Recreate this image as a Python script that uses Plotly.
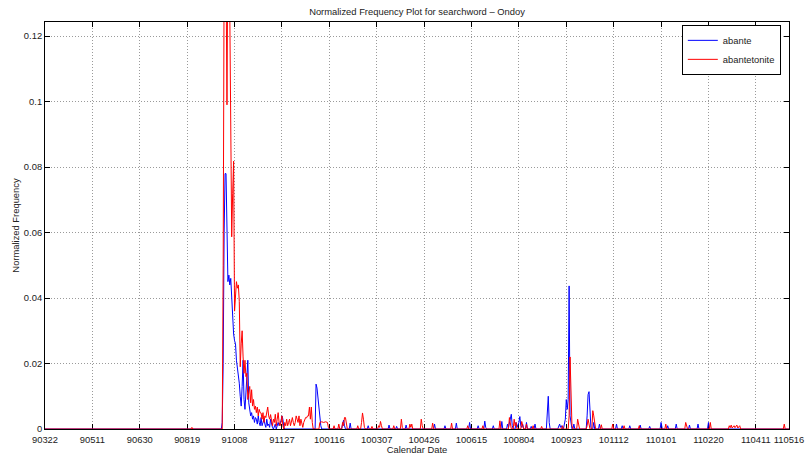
import plotly.graph_objects as go

# Day offsets from 2009-03-22 (x) and normalized frequency values (y)
abante_day = [0, 186, 187, 188, 189, 190, 191, 192, 193, 194, 195, 196, 197, 198, 199, 200,
              201, 202, 203, 204, 205, 206, 207, 208, 209, 210, 211, 212, 213, 214, 215, 216,
              217, 218, 219, 220, 221, 222, 223, 224, 225, 226, 227, 228, 229, 230, 231, 232,
              233, 234, 235, 236, 237, 238, 239, 240, 241, 243, 244, 246, 247, 249, 250, 251,
              252, 253, 285, 286, 287, 288, 289, 290, 291, 292, 313, 314, 315, 316, 317, 321,
              322, 323, 340, 341, 342, 362, 363, 364, 370, 371, 372, 380, 381, 382, 410, 411,
              412, 421, 422, 423, 433, 434, 435, 447, 448, 449, 456, 457, 458, 463, 464, 465,
              466, 472, 473, 474, 481, 482, 483, 487, 488, 489, 490, 491, 492, 493, 494, 496,
              497, 498, 500, 501, 502, 503, 504, 505, 507, 508, 509, 512, 513, 514, 516, 517,
              518, 529, 530, 531, 532, 533, 541, 542, 543, 544, 545, 546, 547, 548, 549, 550,
              551, 552, 553, 554, 555, 556, 557, 558, 559, 571, 572, 573, 574, 575, 576, 577,
              578, 579, 580, 584, 585, 586, 602, 603, 604, 608, 609, 610, 616, 617, 618, 627,
              628, 629, 637, 638, 639, 649, 650, 651, 652, 656, 657, 658, 665, 666, 667, 679,
              680, 681, 688, 689, 690, 699, 700, 701, 785]
abante_val = [0, 0, 0.002, 0.02, 0.06, 0.078, 0.078, 0.058, 0.045, 0.047, 0.044, 0.046, 0.039,
              0.034, 0.029, 0.027, 0.026, 0.021, 0.019, 0.016, 0.014, 0.010, 0.007, 0.013, 0.021,
              0.009, 0.006, 0.011, 0.017, 0.021, 0.008, 0.006, 0.004, 0.005, 0.003, 0.004, 0.002,
              0.0035, 0.003, 0.0015, 0.004, 0.002, 0.001, 0.0035, 0.001, 0.002, 0.003, 0.0015,
              0.0005, 0.003, 0.001, 0.0015, 0.0005, 0.003, 0.001, 0.0005, 0, 0.0015, 0, 0.002,
              0.001, 0.0025, 0.004, 0.003, 0.0005, 0, 0, 0.0137, 0.0125, 0.009, 0.0053, 0.003,
              0.001, 0, 0, 0.0015, 0.0027, 0.001, 0, 0, 0.0018, 0, 0, 0.001, 0, 0, 0.0012, 0,
              0, 0.0008, 0, 0, 0.0012, 0, 0, 0.0015, 0, 0, 0.001, 0, 0, 0.0018, 0, 0, 0.002, 0,
              0, 0.001, 0, 0, 0.0024, 0.0005, 0, 0, 0.001, 0, 0, 0.0023, 0, 0, 0.0015, 0.0005,
              0.002, 0.0035, 0.0045, 0.001, 0, 0, 0.002, 0.0005, 0.002, 0.0038, 0.001, 0.0005,
              0.0015, 0, 0, 0.002, 0, 0, 0.0008, 0, 0, 0.0015, 0, 0, 0.004, 0.010, 0.002, 0, 0,
              0.0008, 0.0015, 0.0005, 0.001, 0, 0, 0.0015, 0.003, 0.009, 0.006, 0.009, 0.0437,
              0.004, 0.001, 0, 0, 0.0015, 0, 0, 0.004, 0.0105, 0.0114, 0.003, 0.0005, 0, 0,
              0.002, 0, 0, 0.0015, 0, 0, 0.0015, 0, 0, 0.001, 0, 0, 0.001, 0, 0, 0.0012, 0, 0,
              0.0008, 0, 0, 0.002, 0.0005, 0, 0, 0.001, 0, 0, 0.0015, 0, 0, 0.0012, 0, 0,
              0.0015, 0, 0, 0.002, 0, 0]

abantetonite_day = [0, 154, 155, 156, 187, 188, 189, 190, 191, 192, 193, 194, 195, 196, 197, 198,
                    199, 200, 201, 202, 203, 204, 205, 206, 207, 208, 209, 210, 211, 212, 213,
                    214, 215, 216, 217, 218, 219, 220, 221, 222, 223, 224, 225, 226, 227, 228,
                    229, 230, 231, 232, 233, 234, 235, 236, 237, 238, 239, 240, 241, 242, 243,
                    244, 245, 246, 247, 248, 249, 250, 251, 252, 253, 254, 255, 256, 257, 258,
                    259, 260, 261, 262, 263, 264, 265, 266, 267, 268, 269, 270, 271, 272, 273,
                    274, 275, 276, 277, 278, 279, 280, 281, 282, 283, 289, 290, 292, 294, 296,
                    298, 299, 300, 304, 305, 306, 309, 310, 311, 313, 314, 315, 316, 317, 318,
                    319, 329, 330, 331, 333, 334, 335, 336, 337, 338, 344, 345, 346, 351, 352,
                    353, 354, 355, 356, 367, 368, 369, 375, 376, 377, 378, 384, 385, 386, 387,
                    388, 396, 397, 398, 399, 408, 409, 410, 428, 429, 430, 445, 446, 447, 461,
                    462, 463, 479, 480, 481, 489, 490, 491, 492, 494, 495, 496, 497, 498, 502,
                    503, 504, 505, 507, 508, 509, 514, 515, 516, 523, 524, 525, 545, 546, 547,
                    552, 553, 554, 555, 556, 557, 561, 562, 563, 564, 571, 572, 573, 574, 575,
                    577, 578, 579, 580, 581, 586, 587, 588, 598, 599, 600, 610, 611, 612, 626,
                    627, 628, 654, 655, 656, 675, 676, 677, 678, 701, 702, 703, 721, 722, 723,
                    724, 725, 727, 728, 730, 731, 733, 734, 779, 780, 781, 785]
abantetonite_val = [0, 0, 0.0005, 0, 0, 0.05, 0.14, 0.16, 0.14, 0.099, 0.15, 0.16, 0.13, 0.085,
                    0.0587, 0.072, 0.0818, 0.036, 0.040, 0.045, 0.043, 0.044, 0.039, 0.019,
                    0.026, 0.030, 0.022, 0.017, 0.021, 0.016, 0.017, 0.009, 0.011, 0.013, 0.008,
                    0.012, 0.007, 0.009, 0.006, 0.007, 0.005, 0.0067, 0.004, 0.006, 0.005,
                    0.0049, 0.003, 0.005, 0.002, 0.004, 0.0035, 0.006, 0.0067, 0.004, 0.003,
                    0.0044, 0.002, 0.001, 0.003, 0.002, 0.0045, 0.001, 0.003, 0.005, 0.002,
                    0.001, 0.002, 0.004, 0.001, 0, 0.002, 0.001, 0.003, 0.001, 0.002, 0.003,
                    0.001, 0.002, 0.0035, 0.002, 0.001, 0.002, 0.004, 0.003, 0.002, 0.004,
                    0.001, 0.003, 0.002, 0.0005, 0.002, 0.003, 0.0035, 0.0034, 0.004, 0.004,
                    0.0067, 0.003, 0.0067, 0.002, 0, 0, 0.002, 0.0022, 0.002, 0.0022, 0.002,
                    0.0005, 0, 0, 0.001, 0, 0, 0.0015, 0, 0, 0.002, 0.001, 0.0035, 0.0035,
                    0.001, 0, 0, 0.001, 0, 0, 0.002, 0.0049, 0.003, 0.0005, 0, 0, 0.0008, 0, 0,
                    0.001, 0.0005, 0.0023, 0.001, 0, 0, 0.001, 0, 0, 0.003, 0.0005, 0, 0, 0.0015,
                    0.0005, 0.0015, 0, 0, 0.003, 0.001, 0, 0, 0.0018, 0, 0, 0.0018, 0, 0, 0.001,
                    0, 0, 0.001, 0, 0, 0.0025, 0, 0, 0.0035, 0.001, 0, 0, 0.003, 0.001, 0.002, 0,
                    0, 0.0023, 0.001, 0, 0, 0.0015, 0, 0, 0.001, 0, 0, 0.0008, 0, 0, 0.001, 0, 0,
                    0.004, 0.022, 0.008, 0.001, 0, 0, 0.003, 0.001, 0, 0, 0.001, 0.003, 0.001, 0,
                    0, 0.0056, 0.004, 0.001, 0, 0, 0.0013, 0, 0, 0.0015, 0, 0, 0.001, 0, 0, 0.001,
                    0, 0, 0.0015, 0, 0, 0.002, 0.0005, 0, 0, 0.002, 0, 0, 0.001, 0.0004, 0.0012,
                    0.0003, 0.001, 0.0004, 0.0012, 0.0003, 0.001, 0, 0, 0.0015, 0, 0]

tick_days = [0, 50, 100, 150, 200, 250, 300, 350, 400, 450, 500, 550, 600, 650, 700, 750, 785]
tick_labels = ["90322", "90511", "90630", "90819", "91008", "91127", "100116", "100307",
               "100426", "100615", "100804", "100923", "101112", "110101", "110220", "110411",
               "110516"]
y_ticks = [0, 0.02, 0.04, 0.06, 0.08, 0.1, 0.12]
y_tick_labels = ["0", "0.02", "0.04", "0.06", "0.08", "0.1", "0.12"]

fig = go.Figure()
fig.add_trace(go.Scatter(x=abante_day, y=abante_val, mode="lines", name="abante",
                         line=dict(color="#0000ff", width=1)))
fig.add_trace(go.Scatter(x=abantetonite_day, y=abantetonite_val, mode="lines", name="abantetonite",
                         line=dict(color="#ff0000", width=1)))

W, H = 805, 455
FS = 9.4
font = "Liberation Sans, Arial, Helvetica, sans-serif"
fig.update_layout(
    width=W, height=H,
    margin=dict(l=45, r=16, t=22, b=26, autoexpand=False),
    paper_bgcolor="white", plot_bgcolor="white",
    font=dict(family=font, size=FS, color="#222"),
    title=dict(text="Normalized Frequency Plot for searchword \u2013 Ondoy",
               x=(45 + (W - 16)) / 2 / W, xanchor="center", y=1 - 11.7 / H, yanchor="middle",
               font=dict(size=FS, color="#222")),
    showlegend=True,
    legend=dict(x=0.989, y=0.993, xanchor="right", yanchor="top",
                bordercolor="black", borderwidth=1, bgcolor="white",
                font=dict(size=FS, color="#222"), tracegroupgap=0, itemwidth=30),
)
grid_dash = "1px,2px"
fig.update_xaxes(range=[0, 785], tickvals=tick_days, ticktext=tick_labels,
                 automargin=False, ticklabeloverflow="allow", tickangle=0,
                 ticklabelstandoff=2,
                 showline=True, linecolor="black", linewidth=1, mirror="ticks",
                 ticks="inside", ticklen=5, tickcolor="black",
                 showgrid=True, gridcolor="#9a9a9a", griddash=grid_dash, gridwidth=1,
                 zeroline=False, layer="below traces",
                 title=dict(text="Calendar Date", standoff=1, font=dict(size=FS)),
                 tickfont=dict(size=FS))
fig.update_yaxes(range=[0, 0.1243], tickvals=y_ticks, ticktext=y_tick_labels,
                 automargin=False,
                 showline=True, linecolor="black", linewidth=1, mirror="ticks",
                 ticks="inside", ticklen=5, tickcolor="black",
                 showgrid=True, gridcolor="#9a9a9a", griddash=grid_dash, gridwidth=1,
                 zeroline=False, layer="below traces",
                 title=dict(text="Normalized Frequency", standoff=2, font=dict(size=FS)),
                 tickfont=dict(size=FS))

# remove the browser's default 8px body margin so the figure fills the window exactly
fig.write_html("out.html", config={"displayModeBar": False},
               post_script="document.body.style.margin='0';document.body.style.overflow='hidden';")
